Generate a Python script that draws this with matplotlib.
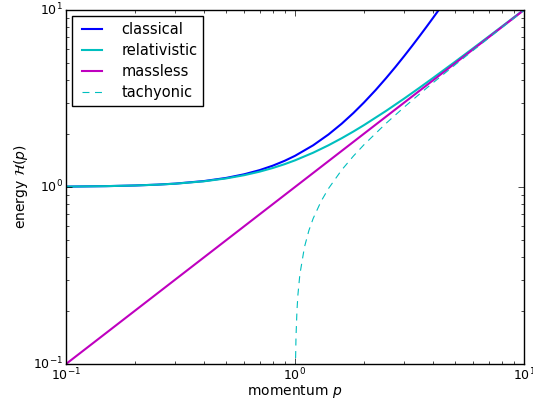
import matplotlib
matplotlib.use("Agg")
import matplotlib.pyplot as plt

plt.style.use("classic")
plt.rcParams["font.family"] = ["DejaVu Sans"]
plt.rcParams["mathtext.fontset"] = "dejavusans"

# momentum samples and energies
p_classical = [0.1, 0.15, 0.2, 0.25, 0.3, 0.4, 0.5, 0.6, 0.7, 0.8, 0.9, 1.0,
               1.2, 1.4, 1.6, 1.8, 2.0, 2.25, 2.5, 2.75, 3.0, 3.25, 3.5, 3.75,
               4.0, 4.25, 4.5]
e_classical = [1.005, 1.01125, 1.02, 1.03125, 1.045, 1.08, 1.125, 1.18, 1.245,
               1.32, 1.405, 1.5, 1.72, 1.98, 2.28, 2.62, 3.0, 3.53, 4.125, 4.78,
               5.5, 6.28, 7.125, 8.03, 9.0, 10.03, 11.125]

p_relativistic = [0.1, 0.15, 0.2, 0.25, 0.3, 0.4, 0.5, 0.6, 0.7, 0.8, 0.9, 1.0,
                  1.2, 1.4, 1.6, 1.8, 2.0, 2.5, 3.0, 3.5, 4.0, 5.0, 6.0, 7.0,
                  8.0, 10.0]
e_relativistic = [1.005, 1.0112, 1.0198, 1.0308, 1.0440, 1.0770, 1.1180, 1.1662,
                  1.2207, 1.2806, 1.3454, 1.4142, 1.5620, 1.7205, 1.8868, 2.0591,
                  2.2361, 2.6926, 3.1623, 3.6401, 4.1231, 5.0990, 6.0828, 7.0711,
                  8.0623, 10.0499]

p_massless = [0.1, 1.0, 10.0]
e_massless = [0.1, 1.0, 10.0]

p_tachyonic = [1.0001, 1.001, 1.003, 1.005, 1.01, 1.02, 1.03, 1.05, 1.1, 1.15,
               1.2, 1.3, 1.4, 1.6, 1.8, 2.0, 2.5, 3.0, 3.5, 4.0, 5.0, 6.0, 7.0,
               8.0, 10.0]
e_tachyonic = [0.0141, 0.0447, 0.0775, 0.1001, 0.1418, 0.2010, 0.2468, 0.3202,
               0.4583, 0.5679, 0.6633, 0.8307, 0.9798, 1.2490, 1.4967, 1.7321,
               2.2913, 2.8284, 3.3541, 3.8730, 4.8990, 5.9161, 6.9282, 7.9373,
               9.9499]

fig = plt.figure(figsize=(5.33, 4.07), dpi=100, facecolor="white")
ax = fig.add_axes([66 / 533, 1 - 364 / 407, 458 / 533, 354 / 407])

ax.plot(p_classical, e_classical, "b-", lw=1.5, label="classical")
ax.plot(p_relativistic, e_relativistic, "c-", lw=1.5, label="relativistic")
ax.plot(p_massless, e_massless, "m-", lw=1.5, label="massless")
ax.plot(p_tachyonic, e_tachyonic, "c--", lw=0.8, dashes=(5, 4), label="tachyonic")

ax.set_xscale("log")
ax.set_yscale("log")
ax.set_xlim(0.1, 10)
ax.set_ylim(0.1, 10)
ax.tick_params(which="major", labelsize=9, length=4, pad=2)
ax.tick_params(which="minor", length=2)
ax.set_xlabel(r"momentum $p$", fontsize=10, labelpad=0)
ax.set_ylabel(r"energy $\mathcal{H}(p)$", fontsize=10, labelpad=2)
ax.legend(loc="upper left", fontsize=10.5, handletextpad=1.0, handlelength=2.0,
          borderaxespad=0.4, labelspacing=0.42)

fig.savefig("out.png", dpi=100, facecolor="white")
